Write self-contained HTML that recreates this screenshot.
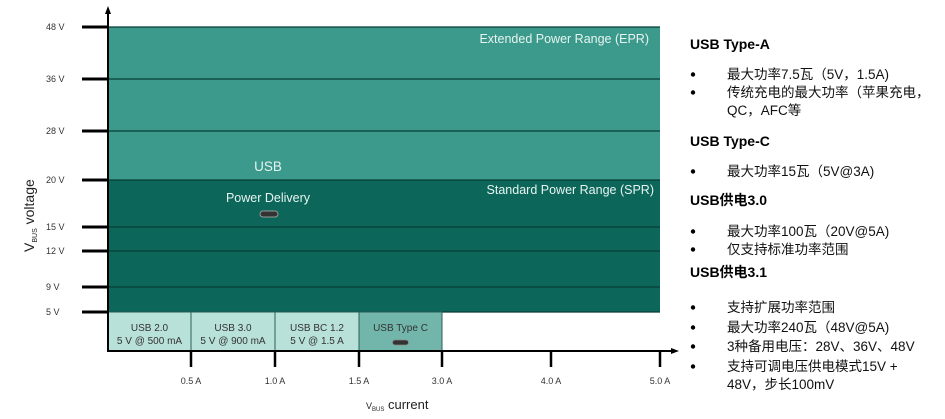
<!DOCTYPE html>
<html><head><meta charset="utf-8"><style>
body{margin:0;background:#fff;width:945px;height:419px;overflow:hidden;font-family:"Liberation Sans","Noto Sans CJK SC",sans-serif}
svg{position:absolute;left:0;top:0}
</style></head><body>
<svg id="chart" width="945" height="419" xmlns="http://www.w3.org/2000/svg"></svg>
<script>
// voltage ticks (V) and current ticks (A)
const voltTicks=[5,9,12,15,20,28,36,48];
const currTicks=[0,0.5,1.0,1.5,3.0,4.0,5.0];
const voltLabels=["5 V","9 V","12 V","15 V","20 V","28 V","36 V","48 V"];
const currLabels=["","0.5 A","1.0 A","1.5 A","3.0 A","4.0 A","5.0 A"];
const regionNames=["epr","spr"];
const regionV=[[20,48],[5,20]];
const regionColors=["#3b9a8c","#0c665a"];
const boxNames=["USB 2.0","USB 3.0","USB BC 1.2","USB Type C"];
const boxSub=["5 V @ 500 mA","5 V @ 900 mA","5 V @ 1.5 A",""];
const boxA=[[0,0.5],[0.5,1.0],[1.0,1.5],[1.5,3.0]];
const boxColors=["#b8e1d9","#b8e1d9","#b8e1d9","#72b6ab"];

// piecewise-linear axes (the chart is not to scale)
const vPix=[312,287,251,227,180,131,79,27];
const aPix=[108,191,275,359,442,551,660];
const yBase=351;
function interp(v,ticks,pix){
  if(v<=ticks[0])return pix[0];
  for(let i=1;i<ticks.length;i++){if(v<=ticks[i]){const t=(v-ticks[i-1])/(ticks[i]-ticks[i-1]);return pix[i-1]+t*(pix[i]-pix[i-1]);}}
  return pix[pix.length-1];
}
const yS=v=>interp(v,voltTicks,vPix);
const xS=a=>interp(a,currTicks,aPix);
const NS="http://www.w3.org/2000/svg";
const svg=document.getElementById('chart');
function mk(tag,attrs,parent){const e=document.createElementNS(NS,tag);for(const k in attrs)e.setAttribute(k,attrs[k]);(parent||svg).appendChild(e);return e;}
function txt(x,y,s,attrs){const e=mk('text',Object.assign({x:x,y:y},attrs||{}));e.textContent=s;return e;}

regionV.forEach((r,i)=>{
  const e=mk('rect',{x:xS(0),y:yS(r[1]),width:xS(5)-xS(0),height:yS(r[0])-yS(r[1]),fill:regionColors[i]});
  
  
});
voltTicks.forEach((v,i)=>{
  const l=mk('line',{x1:xS(0),x2:xS(5),y1:yS(v),y2:yS(v),stroke:'#083d36','stroke-width':1.3});
  
  
  const t=mk('line',{x1:82,x2:xS(0),y1:yS(v),y2:yS(v),stroke:'#000','stroke-width':3});
  
  
  const lb=txt(46,yS(v)+3,voltLabels[i],{'font-size':9,fill:'#333'});
  
  
});
boxA.forEach((b,i)=>{
  const x0=xS(b[0]),x1=xS(b[1]);
  const r=mk('rect',{x:x0,y:yS(5),width:x1-x0,height:yBase-yS(5),fill:boxColors[i],stroke:'#2a5f57','stroke-width':1});
  
  
  const cx=(x0+x1)/2;
  txt(cx,yS(5)+19,boxNames[i],{'font-size':10,fill:'#333','text-anchor':'middle'});
  if(boxSub[i]){
    txt(cx,yS(5)+32,boxSub[i],{'font-size':10,fill:'#333','text-anchor':'middle'});
  }else{
    mk('rect',{x:cx-8,y:yS(5)+28,width:16,height:5,rx:2.5,fill:'#333',stroke:'#888','stroke-width':0.8});
  }
});
currTicks.forEach((a,i)=>{
  if(!currLabels[i])return;
  const t=mk('line',{x1:xS(a),x2:xS(a),y1:yBase,y2:yBase+16,stroke:'#000','stroke-width':2.5});
  
  
  const lb=txt(xS(a),yBase+33,currLabels[i],{'font-size':9,fill:'#333','text-anchor':'middle'});
  
  
});
mk('line',{x1:108,x2:108,y1:12,y2:yBase+1,stroke:'#000','stroke-width':2});
mk('polygon',{points:'108,6 105,14 111,14',fill:'#000'});
mk('line',{x1:107,x2:672,y1:yBase,y2:yBase,stroke:'#000','stroke-width':2});
mk('polygon',{points:'679,351 671,348 671,354',fill:'#000'});
txt(649,43,'Extended Power Range (EPR)',{'font-size':12.5,fill:'#e8f4f1','text-anchor':'end'});
txt(654,194,'Standard Power Range (SPR)',{'font-size':12.5,fill:'#e8f4f1','text-anchor':'end'});
txt(268,171,'USB',{'font-size':13.5,fill:'#e8f4f1','text-anchor':'middle'});
txt(268,202,'Power Delivery',{'font-size':12.5,fill:'#e8f4f1','text-anchor':'middle'});
mk('rect',{x:260,y:211,width:18,height:6,rx:3,fill:'#333',stroke:'#999','stroke-width':1});
const yt=mk('text',{x:0,y:0,'font-size':14,fill:'#222',transform:'translate(34,252) rotate(-90)'});
yt.innerHTML='V<tspan font-size="7" dy="3">BUS</tspan><tspan dy="-3"> voltage</tspan>';

const xt=mk('text',{x:366,y:409,'font-size':13,fill:'#222'});
xt.innerHTML='<tspan font-size="9">V</tspan><tspan font-size="6" dy="2">BUS</tspan><tspan dy="-2"> current</tspan>';


const heads=[["USB Type-A",49],["USB Type-C",146],["USB供电3.0",205],["USB供电3.1",277]];
heads.forEach(h=>{const e=txt(690,h[1],h[0],{'font-size':14,'font-weight':'bold',fill:'#000'});});
const bullets=[["最大功率7.5瓦（5V，1.5A)",79,1],["传统充电的最大功率（苹果充电，",97,1],["QC，AFC等",115,0],["最大功率15瓦（5V@3A)",176,1],["最大功率100瓦（20V@5A)",236,1],["仅支持标准功率范围",254,1],["支持扩展功率范围",312,1],["最大功率240瓦（48V@5A)",332,1],["3种备用电压：28V、36V、48V",351,1],["支持可调电压供电模式15V +",371,1],["48V，步长100mV",389,0]];
bullets.forEach(b=>{
  if(b[2])mk('circle',{cx:693,cy:b[1]-4.5,r:2.2,fill:'#000'});
  const e=txt(727,b[1],b[0],{'font-size':13.5,fill:'#111'});
  
  
});
</script>
</body></html>
